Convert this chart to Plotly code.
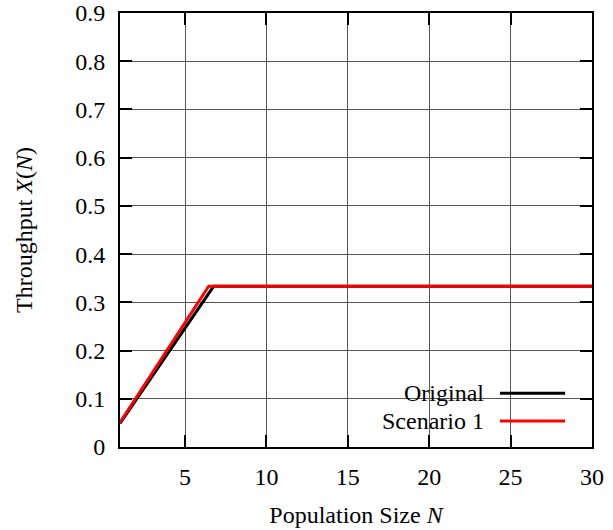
import plotly.graph_objects as go

# Throughput vs. population size (asymptotic bound curves)
original_n = [1, 6.75, 30]
original_x = [0.049, 0.3333, 0.3333]
scenario1_n = [1, 6.45, 30]
scenario1_x = [0.051, 0.3333, 0.3333]

series_names = ["Original", "Scenario 1"]
series_colors = ["#000000", "#ff0000"]

x_ticks = [5, 10, 15, 20, 25, 30]
y_ticks = [0, 0.1, 0.2, 0.3, 0.4, 0.5, 0.6, 0.7, 0.8, 0.9]

FONT = "Liberation Serif"
FSIZE = 24

fig = go.Figure()
for n, x, name, color in zip([original_n, scenario1_n], [original_x, scenario1_x],
                             series_names, series_colors):
    fig.add_trace(go.Scatter(x=n, y=x, mode="lines", name=name,
                             line=dict(color=color, width=3), showlegend=False))

axis_common = dict(
    showline=True, linecolor="black", linewidth=2, mirror="allticks",
    ticks="inside", ticklen=12, tickwidth=1.5, tickcolor="black",
    showgrid=True, gridcolor="#555555", gridwidth=1, zeroline=False,
    automargin=False,
    tickfont=dict(family=FONT, size=FSIZE, color="black"),
)

fig.update_xaxes(range=[1, 30], tickvals=x_ticks, ticklabelstandoff=7,
                 title=dict(text="Population Size <i>N</i>", standoff=17,
                            font=dict(family=FONT, size=FSIZE, color="black")),
                 **axis_common)
fig.update_yaxes(range=[0, 0.9], tickvals=y_ticks, ticklabelstandoff=8,
                 title=dict(text="Throughput <i>X</i>(<i>N</i>)", standoff=36,
                            font=dict(family=FONT, size=FSIZE, color="black")),
                 **axis_common)

# Legend box drawn in the lower right corner of the plot area
fig.add_shape(type="rect", xref="paper", yref="paper", layer="between",
              x0=0.519, x1=0.97, y0=0.028, y1=0.159,
              fillcolor="white", line=dict(width=0))
legend_rows = [0.124, 0.06]
for name, color, yrow in zip(series_names, series_colors, legend_rows):
    fig.add_annotation(xref="paper", yref="paper", x=0.775, y=yrow,
                       text=name, showarrow=False, xanchor="right", yanchor="middle",
                       font=dict(family=FONT, size=FSIZE, color="black"))
    fig.add_shape(type="line", xref="paper", yref="paper",
                  x0=0.805, x1=0.943, y0=yrow, y1=yrow,
                  line=dict(color=color, width=3))

fig.update_layout(
    width=613, height=530,
    margin=dict(l=120, r=21, t=13, b=83),
    plot_bgcolor="white", paper_bgcolor="white",
    showlegend=False,
)

fig.write_html("out.html")
